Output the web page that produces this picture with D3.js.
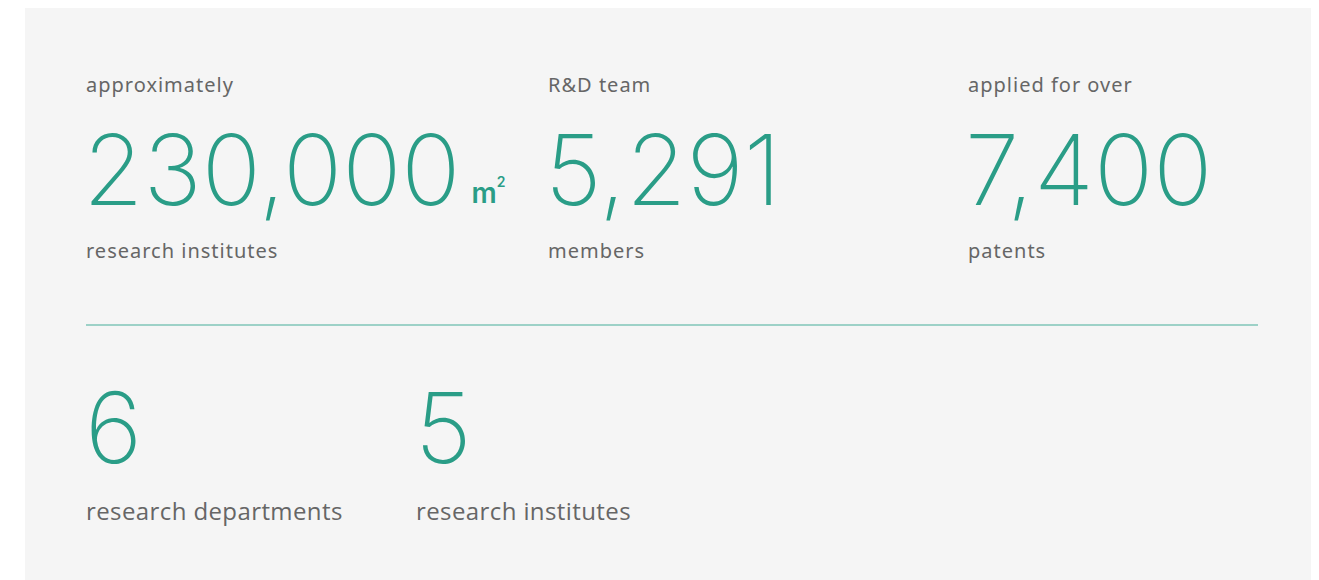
<!DOCTYPE html>
<html>
<head>
<meta charset="utf-8">
<script src="https://cdn.jsdelivr.net/npm/d3@7"></script>
<style>
  body { margin: 0; background: #fff; }
  svg { display: block; }
</style>
</head>
<body>
<svg id="chart"></svg>
<script>
// figures shown on the panel
const topLeads = ["approximately", "R&D team", "applied for over"];
const topValues = [230000, 5291, 7400];
const topUnits = ["m", "", ""];
const topUnitSup = ["2", "", ""];
const topTails = ["research institutes", "members", "patents"];

const bottomValues = [6, 5];
const bottomTails = ["research departments", "research institutes"];

const width = 1319;
const height = 580;
const teal = "#2a9d87";
const grey = "#666";
const numFont = "Inter, 'Noto Sans', sans-serif";
const labelFont = "'Noto Sans', 'Open Sans', sans-serif";

const svg = d3.select("#chart")
    .attr("width", width)
    .attr("height", height);

// panel background
svg.append("rect")
    .attr("x", 25)
    .attr("y", 8)
    .attr("width", 1286)
    .attr("height", height)
    .attr("fill", "#f5f5f5");

const fmt = d3.format(",");

// column positions for each row
const xTop = d3.scalePoint()
    .domain(d3.range(topValues.length))
    .range([86, 968]);
// the original layout is not evenly spaced, nudge the middle column
const topX = i => i === 1 ? 548 : xTop(i);

const xBottom = d3.scaleLinear()
    .domain([0, 1])
    .range([86, 416]);

// ---- first row
const topRow = svg.append("g").attr("class", "top-row");

const cells = topRow.selectAll("g")
    .data(topValues)
    .join("g")
        .attr("transform", (d, i) => `translate(${topX(i)},0)`);

cells.append("text")
    .attr("y", 92)
    .attr("font-family", labelFont)
    .attr("font-size", 20)
    .attr("letter-spacing", 1)
    .attr("fill", grey)
    .text((d, i) => topLeads[i]);

cells.append("text")
    .attr("class", "num")
    .attr("x", -3)
    .attr("y", 205)
    .attr("font-family", numFont)
    .attr("font-weight", 200)
    .attr("font-size", 98)
    .attr("fill", teal)
    .text(d => fmt(d));

// unit after the number (m with a small raised 2)
cells.each(function(d, i) {
    if (!topUnits[i]) return;
    const g = d3.select(this);
    const w = g.select("text.num").node().getComputedTextLength();
    g.append("text")
        .attr("x", -3 + w + 11)
        .attr("y", 203)
        .attr("font-family", numFont)
        .attr("font-weight", 600)
        .attr("font-size", 28)
        .attr("fill", teal)
        .text(topUnits[i])
        .append("tspan")
            .attr("dx", 0)
            .attr("dy", -16)
            .attr("font-size", 14)
            .text(topUnitSup[i]);
});

cells.append("text")
    .attr("y", 258)
    .attr("font-family", labelFont)
    .attr("font-size", 20)
    .attr("letter-spacing", 1)
    .attr("fill", grey)
    .text((d, i) => topTails[i]);

// divider
svg.append("line")
    .attr("x1", 86)
    .attr("x2", 1258)
    .attr("y1", 325)
    .attr("y2", 325)
    .attr("stroke", "#7fc5b7")
    .attr("stroke-width", 1.5);

// ---- second row
const bottomRow = svg.append("g").attr("class", "bottom-row");

const bcells = bottomRow.selectAll("g")
    .data(bottomValues)
    .join("g")
        .attr("transform", (d, i) => `translate(${xBottom(i)},0)`);

bcells.append("text")
    .attr("x", -1)
    .attr("y", 463)
    .attr("font-family", numFont)
    .attr("font-weight", 200)
    .attr("font-size", 98)
    .attr("fill", teal)
    .text(d => fmt(d));

bcells.append("text")
    .attr("y", 520)
    .attr("font-family", "'Open Sans', sans-serif")
    .attr("font-size", 24)
    .attr("letter-spacing", 0.4)
    .attr("fill", grey)
    .text((d, i) => bottomTails[i]);
</script>
</body>
</html>
